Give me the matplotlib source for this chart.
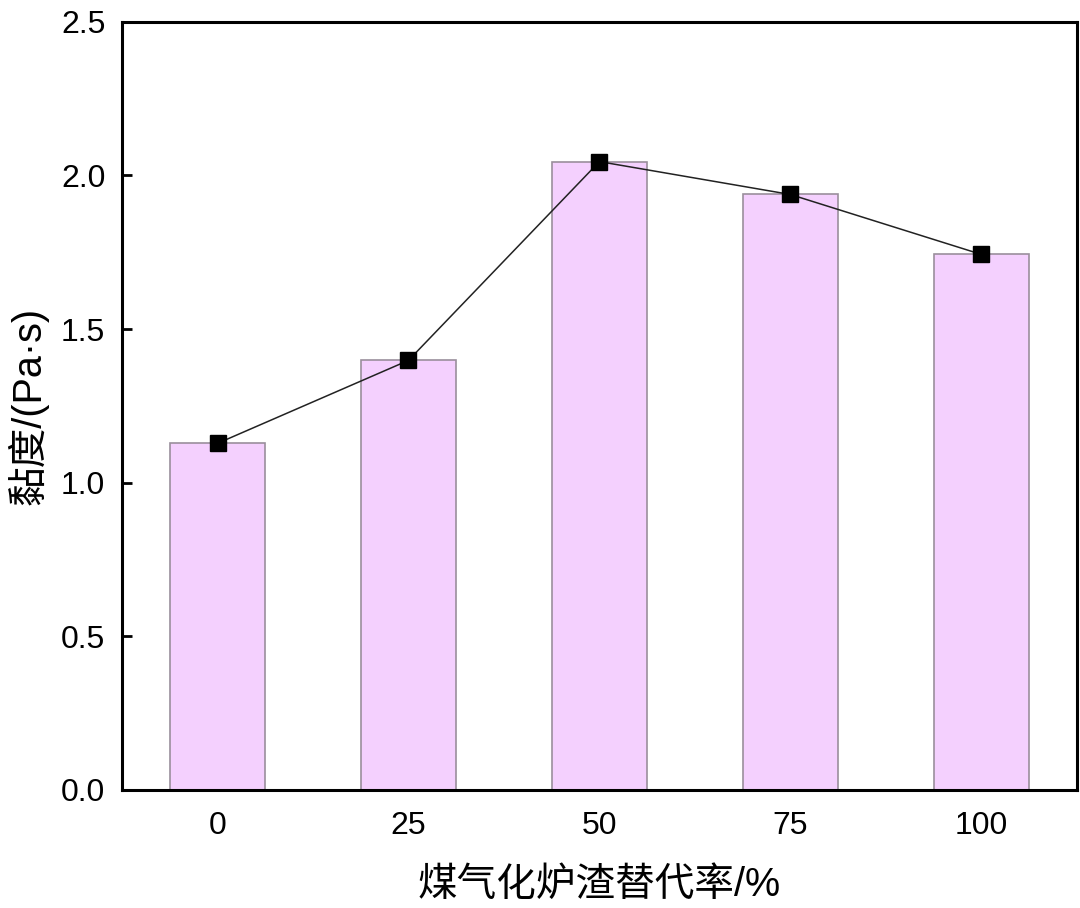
import matplotlib
matplotlib.use("Agg")
import matplotlib.pyplot as plt
import numpy as np

categories = ["0", "25", "50", "75", "100"]
viscosity = [1.128, 1.398, 2.045, 1.938, 1.743]
yticks = [0.0, 0.5, 1.0, 1.5, 2.0, 2.5]

plt.rcParams['font.family'] = ['Liberation Sans', 'Noto Sans CJK SC', 'DejaVu Sans']

fig = plt.figure(figsize=(10.8, 9.08), dpi=100)
ax = fig.add_axes([0.113, 0.130, 0.884, 0.846])

x = np.arange(len(categories))
ax.bar(x, viscosity, width=0.5, color='#F4D0FE', edgecolor='#9a8f9c', linewidth=1.2, zorder=2)
ax.plot(x, viscosity, color='#222222', linewidth=1.1, marker='s', markersize=12,
        markerfacecolor='black', markeredgecolor='black', zorder=3)

ax.set_xlim(-0.5, len(categories) - 0.5)
ax.set_ylim(0, 2.5)
ax.set_xticks(x)
ax.set_xticklabels(categories)
ax.set_yticks(yticks)
ax.set_yticklabels([f"{v:.1f}" for v in yticks])

for s in ax.spines.values():
    s.set_linewidth(2.2)
    s.set_zorder(4)

ax.tick_params(axis='y', direction='in', length=7, width=2, labelsize=23, pad=12)
ax.tick_params(axis='x', length=0, labelsize=23, pad=15)

ax.set_xlabel("煤气化炉渣替代率/%", fontsize=28.5, family=['Liberation Sans', 'Noto Sans CJK SC'],
              fontweight='light', labelpad=18)
ax.set_ylabel("黏度/(Pa·s)", fontsize=28.5, family=['Liberation Sans', 'Noto Sans CJK SC'],
              fontweight='light', labelpad=9)

fig.savefig("out.png", dpi=100)
